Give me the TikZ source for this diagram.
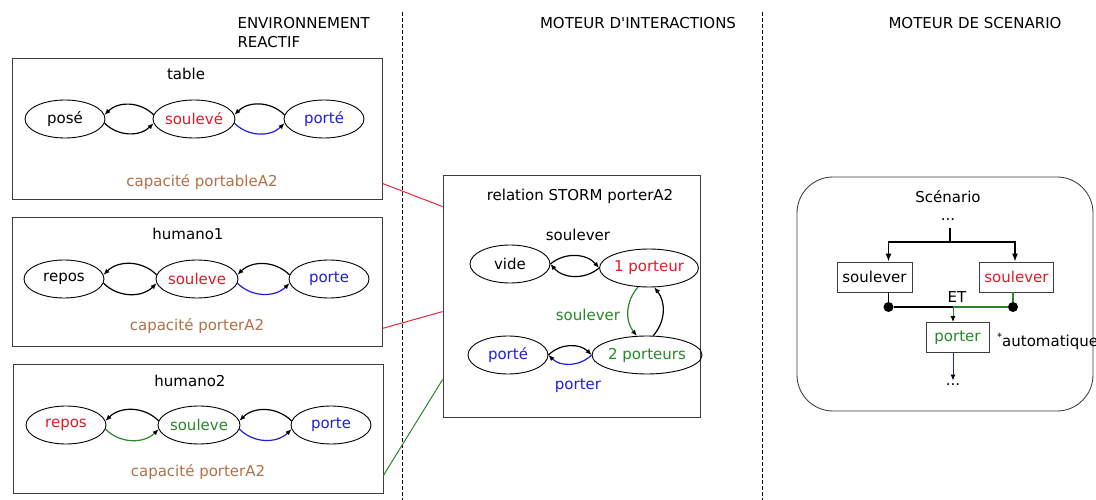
\documentclass[tikz,border=0pt]{standalone}
\usepackage{fontspec}
\setmainfont{DejaVu Sans}
\newfontfamily\plainfont{DejaVu Sans}
\usetikzlibrary{arrows.meta,shapes.geometric,calc}
\definecolor{sred}{RGB}{228,24,36}
\definecolor{sblue}{RGB}{30,30,220}
\definecolor{sgreen}{RGB}{40,136,40}
\definecolor{cap}{RGB}{176,112,72}
\definecolor{frame}{RGB}{60,60,60}
\definecolor{lred}{RGB}{226,40,60}
\begin{document}
\begin{tikzpicture}[x=1pt,y=-1pt,
  font=\fontsize{15}{19}\selectfont,
  panel/.style={draw=frame,line width=0.85pt,inner sep=0pt},
  state/.style={draw,ellipse,line width=0.9pt,minimum width=80pt,minimum height=38pt,inner sep=0pt},
  tr/.style={-{Latex[length=6pt,width=5pt,color=black]},line width=1.2pt},
  act/.style={draw=frame,line width=0.9pt,minimum height=30pt,inner xsep=5pt,inner ysep=0pt},
  sep/.style={dashed,dash pattern=on 4pt off 2pt,line width=1pt},
  capa/.style={text=cap},
  branch/.style={-{Latex[length=8pt,width=6pt]},line width=1.2pt},
]
\useasboundingbox (0,0) rectangle (1096,500);

% column separators and headings
\coordinate (sepA1) at (402,12);
\coordinate (sepA2) at (402,500);
\coordinate (sepB1) at (762,12);
\coordinate (sepB2) at (762,500);
\draw[sep] (sepA1) -- (sepA2);
\draw[sep] (sepB1) -- (sepB2);
\node[anchor=west,align=left] (hEnv) at (234,33) {ENVIRONNEMENT\\REACTIF};
\node (hInt) at (638,23) {{\plainfont MOTEUR D'INTERACTIONS}};
\node (hSce) at (975,23) {MOTEUR DE SCENARIO};

% --- reactive environment: table ---
\node[panel,minimum width=370pt,minimum height=141pt] (tbl) at (197,128.5) {};
\node (tblT) at (186,74) {table};
\node[state] (tA) at (65,119) {posé};
\node[state,text=sred] (tB) at (194,119) {soulevé};
\node[state,text=sblue] (tC) at (324,119) {porté};
\draw[tr] (tB.174) to[bend right=45] (tA.6);
\draw[tr] (tA.-6) to[bend right=45] (tB.186);
\draw[tr] (tC.174) to[bend right=45] (tB.6);
\draw[tr,sblue] (tB.-6) to[bend right=45] (tC.186);
\node[capa] (tblC) at (202,182) {capacité portableA2};

% --- humano1 ---
\node[panel,minimum width=370pt,minimum height=129pt] (h1) at (197,281.5) {};
\node (h1T) at (188,234) {humano1};
\node[state] (aA) at (64,279) {repos};
\node[state,text=sred] (aB) at (197,279) {souleve};
\node[state,text=sblue] (aC) at (329,279) {porte};
\draw[tr] (aB.174) to[bend right=45] (aA.6);
\draw[tr] (aA.-6) to[bend right=45] (aB.186);
\draw[tr] (aC.174) to[bend right=45] (aB.6);
\draw[tr,sblue] (aB.-6) to[bend right=45] (aC.186);
\node[capa] (h1C) at (197,326) {capacité porterA2};

% --- humano2 ---
\node[panel,minimum width=370pt,minimum height=129pt] (h2) at (198,428.5) {};
\node (h2T) at (190,381) {humano2};
\node[state,text=sred] (bA) at (66,425) {repos};
\node[state,text=sgreen] (bB) at (199,425) {souleve};
\node[state,text=sblue] (bC) at (331,425) {porte};
\draw[tr] (bB.174) to[bend right=45] (bA.6);
\draw[tr,sgreen] (bA.-6) to[bend right=45] (bB.186);
\draw[tr] (bC.174) to[bend right=45] (bB.6);
\draw[tr,sblue] (bB.-6) to[bend right=45] (bC.186);
\node[capa] (h2C) at (198,472) {capacité porterA2};

% --- interaction engine: STORM relation ---
\node[panel,minimum width=257pt,minimum height=242pt] (rel) at (571.5,296) {};
\node (relT) at (580,196) {relation STORM porterA2};
\node[state] (rV) at (510,264) {vide};
\node[state,text=sred] (r1) at (649,268) {1 porteur};
\node[state,text=sgreen] (r2) at (647,355) {2 porteurs};
\node[state,text=sblue] (rP) at (508,355) {porté};
\draw[tr] (rV.east) to[bend left=45] (r1.west);
\draw[tr] (r1.west) to[bend left=45] (rV.east);
\draw[tr,sgreen] (r1.240) to[bend right=40] (r2.118);
\draw[tr] (r2.72) to[bend right=40] (r1.285);
\draw[tr] (rP.east) to[bend left=45] (r2.west);
\draw[tr,sblue] (r2.west) to[bend left=45] (rP.east);
\node (lS1) at (578,235) {soulever};
\node[text=sgreen] (lS2) at (588,315) {soulever};
\node[text=sblue] (lP) at (578,386) {porter};

% links between capacities and the relation
\draw[lred,line width=1pt] ([yshift=16pt]tbl.south east) -- ([yshift=-32pt]rel.north west);
\draw[lred,line width=1pt] ([yshift=18pt]h1.south east) -- ([yshift=-137pt]rel.north west);
\draw[sgreen,line width=1pt] ([yshift=18pt]h2.south east) -- ([yshift=-205pt]rel.north west);

% --- scenario engine ---
\node[panel,rounded corners=36pt,minimum width=296pt,minimum height=234pt] (sc) at (945,294) {};
\node (scT) at (948,197) {Scénario};
\node (scD) at (948,220) {...};
\node[act,minimum width=75pt] (s1) at (874.5,277) {soulever};
\node[act,minimum width=73pt,text=sred] (s2) at (1016.5,277) {soulever};
\node[act,minimum width=63pt,text=sgreen] (sp) at (957.5,337.5) {porter};
\coordinate (stem) at (950,228);
\coordinate (split) at (950,242);
\draw[line width=1.2pt] (stem) -- (split);
\draw[branch] (split) -| ([xshift=14pt]s1.north);
\draw[branch] (split) -| ([xshift=-1.5pt]s2.north);
\node[circle,fill,inner sep=0pt,minimum size=10pt] (d1) at (888.5,307) {};
\node[circle,fill,inner sep=0pt,minimum size=10pt] (d2) at (1013,307) {};
\coordinate (join) at (953,307);
\draw[line width=1.1pt] ([xshift=14pt]s1.south) -- (d1);
\draw[sgreen,line width=1.1pt] ([xshift=-3.5pt]s2.south) -- (d2);
\draw[line width=1.1pt] (d1) -- (join);
\draw[sgreen,line width=1.1pt] (join) -- (d2);
\draw[sgreen,line width=1pt,-{Latex[length=6pt,width=5pt,color=black]}] (join) -- ([xshift=-4.5pt]sp.north);
\node (et) at (957,297) {ET};
\node (scE) at (953,385) {...};
\draw[sblue,line width=1pt,-{Latex[length=6pt,width=5pt,color=black]}] ([xshift=-4.5pt]sp.south) -- (scE.north);
\node[anchor=west,inner sep=0pt] (auto) at (997,341) {\raisebox{6pt}{\fontsize{10}{12}\selectfont *}automatique};
\end{tikzpicture}
\end{document}
